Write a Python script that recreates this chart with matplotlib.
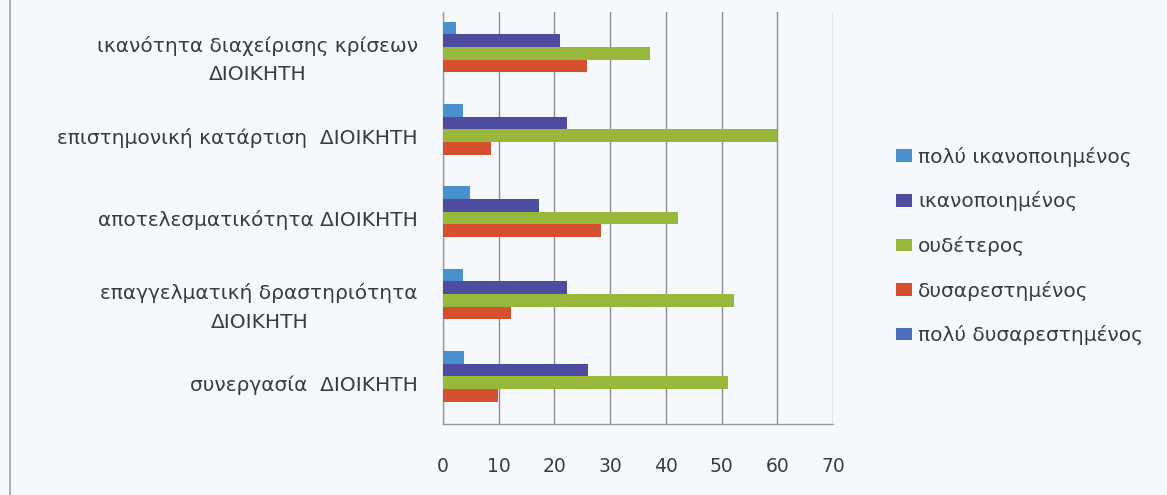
import matplotlib
matplotlib.use("Agg")
import matplotlib.pyplot as plt
import numpy as np
from matplotlib.lines import Line2D
from matplotlib.patches import Patch

plt.rcParams['font.family'] = ['DejaVu Sans']

# Categories listed bottom to top (as they appear on the y axis)
categories = [
    "συνεργασία  ΔΙΟΙΚΗΤΗ",
    "επαγγελματική δραστηριότητα\nΔΙΟΙΚΗΤΗ",
    "αποτελεσματικότητα ΔΙΟΙΚΗΤΗ",
    "επιστημονική κατάρτιση  ΔΙΟΙΚΗΤΗ",
    "ικανότητα διαχείρισης κρίσεων\nΔΙΟΙΚΗΤΗ",
]

poly_dysarest = [0, 0, 0, 0, 0]
dysarest = [9.9, 12.2, 28.4, 8.7, 25.8]
oudeteros = [51.2, 52.2, 42.2, 60.0, 37.2]
ikanopoi = [26.0, 22.2, 17.2, 22.2, 21.0]
poly_ikanopoi = [3.8, 3.6, 4.9, 3.6, 2.4]

series_names = ["πολύ δυσαρεστημένος", "δυσαρεστημένος", "ουδέτερος",
                "ικανοποιημένος", "πολύ ικανοποιημένος"]
series_values = [poly_dysarest, dysarest, oudeteros, ikanopoi, poly_ikanopoi]
series_colors = ["#4a6fb8", "#d4502e", "#97b83a", "#4d4c9f", "#4a90cc"]

x_ticks = [0, 10, 20, 30, 40, 50, 60, 70]

fs_text = 14.5
fs_tick = 13.5
bg = "#f6f9fc"
fig = plt.figure(figsize=(11.67, 4.95), dpi=100, facecolor=bg)
ax = fig.add_axes([443 / 1167, 1 - 424 / 495, (833 - 443) / 1167, (424 - 12) / 495])
ax.set_facecolor(bg)

n = len(series_values)
h = 1 / (n + 1.5)
y = np.arange(len(categories))
for i, (vals, col) in enumerate(zip(series_values, series_colors)):
    off = (i - (n - 1) / 2) * h
    ax.barh(y + off, vals, height=h, color=col, zorder=3)

ax.set_xlim(0, 70)
ax.set_ylim(-0.5, len(categories) - 0.5)
ax.set_xticks(x_ticks)
ax.set_xticklabels([str(t) for t in x_ticks], fontsize=fs_tick)
ax.set_yticks(y)
ax.set_yticklabels(categories, multialignment='center', linespacing=1.65, fontsize=fs_text)
ax.tick_params(axis='both', length=0, labelcolor="#3c3c3c")
ax.tick_params(axis='y', pad=18)
ax.tick_params(axis='x', pad=24)

ax.grid(axis='x', color="#8c8a98", linewidth=1.0, zorder=1)
for s in ['top', 'right']:
    ax.spines[s].set_visible(False)
for s in ['left', 'bottom']:
    ax.spines[s].set_color("#9a9aa4")
    ax.spines[s].set_linewidth(1.0)

handles = [Patch(facecolor=c, edgecolor='none') for c in series_colors][::-1]
labels = series_names[::-1]
fig.legend(handles, labels, loc='center left', bbox_to_anchor=(878 / 1167, 1 - 246 / 495),
           frameon=False, fontsize=fs_text, labelcolor="#3c3c3c", handlelength=0.8,
           handleheight=0.6, handletextpad=0.3, labelspacing=1.22)

# Left frame edge
fig.add_artist(Line2D([10 / 1167, 10 / 1167], [0, 1], color="#a0a0a8", linewidth=1.2))

fig.savefig("out.png", dpi=100, facecolor=bg)
